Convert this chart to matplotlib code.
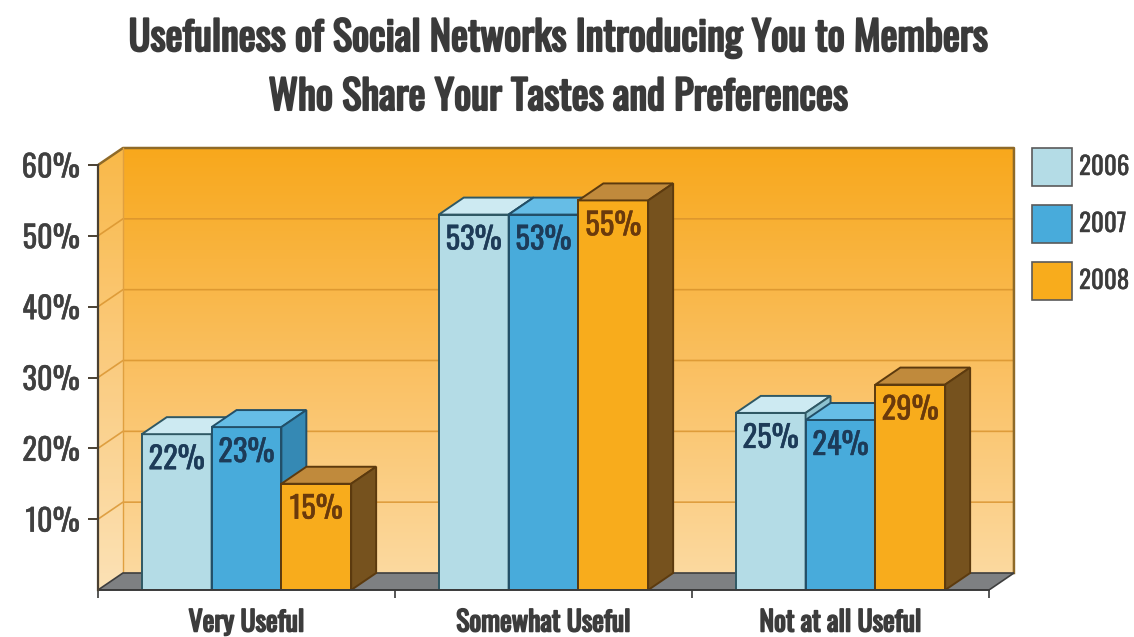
import matplotlib.pyplot as plt
import matplotlib.patheffects as pe
import numpy as np
from matplotlib.patches import Polygon, Rectangle
from matplotlib.colors import LinearSegmentedColormap

categories = ['Very Useful', 'Somewhat Useful', 'Not at all Useful']
years = ['2006', '2007', '2008']
values = {
    '2006': [22, 53, 25],
    '2007': [23, 53, 24],
    '2008': [15, 55, 29],
}
yticks = [10, 20, 30, 40, 50, 60]

# face / top / side / edge / label colour per series
front = {'2006': '#B4DCE6', '2007': '#48ABDB', '2008': '#F8AC1C'}
top = {'2006': '#CDEAF2', '2007': '#66BDE6', '2008': '#C08A3C'}
side = {'2006': '#8DC2D0', '2007': '#3589B4', '2008': '#76521E'}
edge = {'2006': '#2F5864', '2007': '#224F68', '2008': '#5C3A0E'}
txtc = {'2006': '#1D3B58', '2007': '#1D3B58', '2008': '#6A3A0C'}

FONT = ['Oswald', 'DejaVu Sans']
plt.rcParams['font.family'] = FONT
GREY = '#3A3A3A'


def bold(c, w=1.2):
    return [pe.withStroke(linewidth=w, foreground=c)]


dx, dy = 0.084, 2.4   # depth offset of the 3d look
bw = 0.235
xmax, ymax = 2.6, 63.0

fig = plt.figure(figsize=(11.34, 6.37), dpi=100)
# 297 px per category, ~7.08 px per percent
ax = fig.add_axes([98 / 1134, 47 / 637, (xmax + 0.5) * 297 / 1134, ymax * 425 / 60 / 637])
ax.set_xlim(-0.5, xmax)
ax.set_ylim(0, ymax)
ax.patch.set_visible(False)

# walls: left side + back wall, with a vertical orange gradient
wall = Polygon([(-0.5, 0), (-0.5, 60), (-0.5 + dx, 60 + dy), (2.5 + dx, 60 + dy),
                (2.5 + dx, dy), (-0.5 + dx, dy)], closed=True,
               facecolor='none', edgecolor='none')
ax.add_patch(wall)
cmap = LinearSegmentedColormap.from_list('wall', ['#FCDBA4', '#FAC062', '#F8A81C'])
grad = np.linspace(0, 1, 256).reshape(-1, 1)
im = ax.imshow(grad, cmap=cmap, aspect='auto', origin='lower',
               extent=[-0.5, 2.5 + dx, 0, 60 + dy], zorder=0)
im.set_clip_path(wall)
# lighter left side panel
ax.add_patch(Polygon([(-0.5, 0), (-0.5, 60), (-0.5 + dx, 60 + dy), (-0.5 + dx, dy)],
                     closed=True, facecolor='white', alpha=0.2, edgecolor='none',
                     zorder=0.5))

# gridlines on the wall
for v in yticks[:-1]:
    ax.plot([-0.5, -0.5 + dx, 2.5 + dx], [v, v + dy, v + dy], color='#D8922C',
            lw=1.2, alpha=0.8, zorder=1)
ax.plot([-0.5, -0.5 + dx, 2.5 + dx, 2.5 + dx], [60, 60 + dy, 60 + dy, dy],
        color='#8F6A28', lw=1.8, zorder=1)
ax.plot([-0.5 + dx, -0.5 + dx], [dy, 60 + dy], color='#E0A040', lw=1, zorder=1)

# floor
ax.add_patch(Polygon([(-0.5, 0), (2.5, 0), (2.5 + dx, dy), (-0.5 + dx, dy)], closed=True,
                     facecolor='#7E8082', edgecolor='#3E3E3E', lw=1.2, zorder=1.5))

# bars
for gi, cat in enumerate(categories):
    for si, yr in enumerate(years):
        h = values[yr][gi]
        x0 = gi - 1.5 * bw + si * bw
        z = 2 + gi * 0.1 + si * 0.01
        ax.add_patch(Rectangle((x0, 0), bw, h, facecolor=front[yr], edgecolor=edge[yr],
                               lw=1.4, zorder=z))
        ax.add_patch(Polygon([(x0, h), (x0 + bw, h), (x0 + bw + dx, h + dy), (x0 + dx, h + dy)],
                             closed=True, facecolor=top[yr], edgecolor=edge[yr], lw=1.4,
                             zorder=z))
        ax.add_patch(Polygon([(x0 + bw, 0), (x0 + bw + dx, dy), (x0 + bw + dx, h + dy), (x0 + bw, h)],
                             closed=True, facecolor=side[yr], edgecolor=edge[yr], lw=1.4,
                             zorder=z))
        ax.text(x0 + bw / 2, h - 3.6, f'{h}%', ha='center', va='center', fontsize=22,
                color=txtc[yr], zorder=z + 0.005, path_effects=bold(txtc[yr], 0.3))

# axes styling
for s in ['top', 'right']:
    ax.spines[s].set_visible(False)
ax.spines['left'].set_bounds(0, 60)
ax.spines['bottom'].set_bounds(-0.5, 2.5)
ax.spines['left'].set_color('#4A4032')
ax.spines['left'].set_linewidth(1.6)
ax.spines['bottom'].set_color(GREY)
ax.spines['bottom'].set_linewidth(1.4)
ax.spines['left'].set_zorder(3)
ax.set_yticks(yticks)
ax.set_yticklabels([f'{v}%' for v in yticks])
ax.tick_params(axis='y', length=7, width=1.4, color='#4A4032', labelsize=22,
               labelcolor='#404040', pad=6)
ax.set_xticks(range(len(categories)))
ax.set_xticklabels(categories, fontsize=20, color='#3C3C3C')
ax.tick_params(axis='x', length=0, pad=14)
ax.set_xticks([-0.5, 0.5, 1.5, 2.5], minor=True)
ax.tick_params(axis='x', which='minor', length=6, width=1.2, color=GREY)
for t in ax.get_yticklabels():
    t.set_path_effects(bold('#404040', 0.3))
for t in ax.get_xticklabels():
    t.set_path_effects(bold('#3C3C3C', 1.2))

# title
title = ['Usefulness of Social Networks Introducing You to Members',
         'Who Share Your Tastes and Preferences']
for i, line in enumerate(title):
    fig.text(558 / 1134, 1 - (51 + 59 * i) / 637, line, ha='center', va='baseline',
             fontsize=29, color=GREY, path_effects=bold(GREY, 1.5))

# legend
for i, yr in enumerate(years):
    ytop = 148 + i * 57
    fig.patches.append(Rectangle((1032 / 1134, 1 - (ytop + 38) / 637), 40 / 1134, 38 / 637,
                                 transform=fig.transFigure, facecolor=front[yr],
                                 edgecolor='#5A5A5A', lw=1.2))
    fig.text(1079 / 1134, 1 - (ytop + 19) / 637, yr, ha='left', va='center', fontsize=18,
             color='#3C3C3C', path_effects=bold('#3C3C3C', 0.3))

fig.savefig('out.png', dpi=100)
